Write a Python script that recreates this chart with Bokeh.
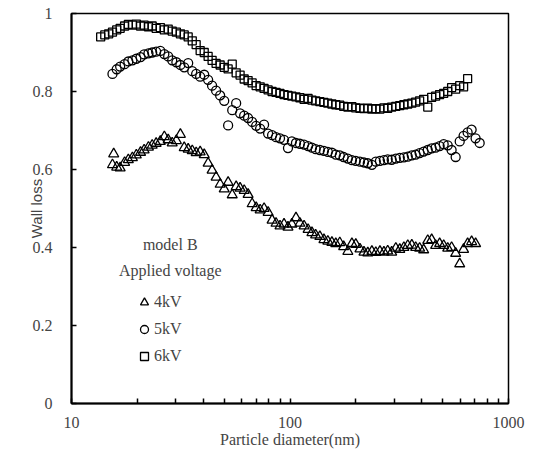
from bokeh.plotting import figure
from bokeh.models import Range1d, FixedTicker, Legend, LegendItem, Label
from bokeh.embed import file_html
from bokeh.resources import INLINE

# ---------------- data ----------------
diam_6kv = [13.6, 14.2, 14.8, 15.4, 16.1, 16.7, 17.5, 18.2, 19.0, 19.8,
            20.7, 21.5, 22.5, 23.4, 24.4, 25.5, 26.6, 27.7, 28.9, 30.2,
            31.5, 32.8, 34.2, 35.7, 37.2, 38.8, 40.5, 42.2, 44.0, 45.9,
            47.9, 50.0, 52.1, 54.4, 56.7, 59.1, 61.7, 64.3, 67.1, 70.0,
            73.0, 76.1, 79.4, 82.8, 86.3, 90.0, 93.9, 97.9, 102, 106.5,
            111, 116, 121, 126, 131, 137, 143, 149, 155.5, 162,
            169, 176, 184, 192, 200, 209, 218, 227, 237, 247,
            258, 269, 280, 292, 305, 318, 332, 346, 361, 376,
            392, 409, 427, 445, 464, 484, 505, 527, 549, 573,
            598, 623, 650]
wall_6kv = [0.940, 0.945, 0.948, 0.952, 0.958, 0.962, 0.968, 0.972, 0.970, 0.973,
            0.968, 0.970, 0.966, 0.968, 0.962, 0.964, 0.958, 0.960, 0.955, 0.952,
            0.948, 0.945, 0.940, 0.930, 0.920, 0.905, 0.900, 0.890, 0.880, 0.872,
            0.868, 0.862, 0.858, 0.870, 0.848, 0.842, 0.832, 0.828, 0.822, 0.815,
            0.812, 0.808, 0.804, 0.800, 0.798, 0.795, 0.792, 0.790, 0.788, 0.786,
            0.784, 0.780, 0.782, 0.778, 0.776, 0.774, 0.772, 0.770, 0.768, 0.766,
            0.765, 0.762, 0.760, 0.761, 0.758, 0.757, 0.756, 0.757, 0.755, 0.756,
            0.755, 0.758, 0.757, 0.760, 0.762, 0.764, 0.766, 0.768, 0.770, 0.773,
            0.776, 0.780, 0.760, 0.785, 0.788, 0.792, 0.795, 0.800, 0.810, 0.806,
            0.815, 0.812, 0.833]

diam_5kv = [15.4, 16.1, 16.7, 17.5, 18.2, 19.0, 19.8, 20.7, 21.5, 22.5,
            23.4, 24.4, 25.5, 26.6, 27.7, 28.9, 30.2, 31.5, 32.8, 34.2,
            35.7, 37.2, 38.8, 40.5, 42.2, 44.0, 45.9, 47.9, 50.0, 52.1,
            54.4, 56.7, 59.1, 61.7, 64.3, 67.1, 70.0, 73.0, 76.1, 79.4,
            82.8, 86.3, 90.0, 93.9, 97.9, 102, 106.5, 111, 116, 121,
            126, 131, 137, 143, 149, 155.5, 162, 169, 176, 184,
            192, 200, 209, 218, 227, 237, 247, 258, 269, 280,
            292, 305, 318, 332, 346, 361, 376, 392, 409, 427,
            445, 464, 484, 505, 527, 549, 573, 598, 623, 650,
            678, 707, 738]
wall_5kv = [0.845, 0.857, 0.864, 0.870, 0.877, 0.880, 0.884, 0.888, 0.895, 0.898,
            0.900, 0.902, 0.904, 0.896, 0.890, 0.880, 0.875, 0.868, 0.862, 0.873,
            0.852, 0.845, 0.838, 0.843, 0.830, 0.815, 0.802, 0.790, 0.776, 0.713,
            0.752, 0.770, 0.744, 0.738, 0.732, 0.722, 0.712, 0.705, 0.715, 0.692,
            0.688, 0.683, 0.680, 0.676, 0.655, 0.672, 0.668, 0.666, 0.664, 0.660,
            0.656, 0.652, 0.650, 0.648, 0.645, 0.643, 0.638, 0.636, 0.632, 0.628,
            0.624, 0.622, 0.620, 0.618, 0.616, 0.612, 0.620, 0.622, 0.624, 0.626,
            0.625, 0.628, 0.630, 0.631, 0.633, 0.636, 0.638, 0.642, 0.646, 0.650,
            0.654, 0.656, 0.660, 0.665, 0.662, 0.650, 0.632, 0.672, 0.686, 0.695,
            0.702, 0.680, 0.668]

diam_4kv = [15.4, 15.6, 16.1, 16.7, 17.5, 18.2, 19.0, 19.8, 20.7, 21.5, 22.5,
            23.4, 24.4, 25.5, 26.6, 27.7, 28.9, 30.2, 31.5, 32.8, 34.2,
            35.7, 37.2, 38.8, 40.5, 42.2, 44.0, 45.9, 47.9, 50.0, 52.1,
            54.4, 56.7, 59.1, 61.7, 64.3, 67.1, 70.0, 73.0, 76.1, 79.4,
            82.8, 86.3, 90.0, 93.9, 97.9, 102, 106.5, 111, 116, 121,
            126, 131, 137, 143, 149, 155.5, 162, 169, 176, 184,
            192, 200, 209, 218, 227, 237, 247, 258, 269, 280,
            292, 305, 318, 332, 346, 361, 376, 392, 409, 427,
            445, 464, 484, 505, 527, 549, 573, 598, 623, 650,
            678, 707]
wall_4kv = [0.612, 0.640, 0.606, 0.604, 0.618, 0.625, 0.630, 0.637, 0.644, 0.650, 0.657,
            0.662, 0.667, 0.672, 0.684, 0.676, 0.668, 0.674, 0.690, 0.656, 0.652,
            0.648, 0.643, 0.645, 0.638, 0.616, 0.598, 0.580, 0.562, 0.550, 0.567,
            0.535, 0.556, 0.552, 0.546, 0.536, 0.512, 0.502, 0.496, 0.500, 0.490,
            0.470, 0.462, 0.455, 0.460, 0.452, 0.460, 0.476, 0.462, 0.455, 0.446,
            0.438, 0.432, 0.428, 0.420, 0.416, 0.413, 0.410, 0.412, 0.402, 0.390,
            0.410, 0.408, 0.396, 0.388, 0.386, 0.390, 0.387, 0.390, 0.388, 0.391,
            0.388, 0.398, 0.395, 0.400, 0.405, 0.406, 0.400, 0.398, 0.394, 0.418,
            0.420, 0.405, 0.410, 0.405, 0.398, 0.400, 0.385, 0.358, 0.395, 0.410,
            0.415, 0.410]

series_labels = ["4kV", "5kV", "6kV"]
y_ticks = [0, 0.2, 0.4, 0.6, 0.8, 1]
y_tick_labels = ["0", "0.2", "0.4", "0.6", "0.8", "1"]
x_ticks = [10, 100, 1000]
x_minor_ticks = [20, 30, 40, 50, 60, 70, 80, 90, 200, 300, 400, 500, 600, 700, 800, 900]
x_tick_labels = ["10", "100", "1000"]
title_lines = ["model B", "Applied voltage"]

assert len(diam_6kv) == len(wall_6kv)
assert len(diam_5kv) == len(wall_5kv)
assert len(diam_4kv) == len(wall_4kv)

SERIF = "Liberation Serif"
SANS = "Liberation Sans"

p = figure(width=536, height=464, x_axis_type="log",
           x_range=Range1d(10, 1000), y_range=Range1d(0, 1),
           output_backend="svg", toolbar_location=None)
p.min_border_left = 71
p.min_border_right = 28
p.min_border_top = 13
p.min_border_bottom = 61

p.xgrid.visible = False
p.ygrid.visible = False
p.outline_line_color = "black"
p.outline_line_width = 1.5
p.background_fill_color = "white"

# x axis
xa = p.xaxis[0]
xa.ticker = FixedTicker(ticks=x_ticks, minor_ticks=x_minor_ticks)
xa.major_label_overrides = {t: l for t, l in zip(x_ticks, x_tick_labels)}
xa.axis_label = "Particle diameter(nm)"
xa.axis_label_text_font = SERIF
xa.axis_label_text_font_size = "16px"
xa.axis_label_text_font_style = "normal"
xa.axis_label_standoff = 0
xa.major_label_text_font = SERIF
xa.major_label_text_font_size = "16px"
xa.major_label_standoff = 13
xa.axis_line_width = 2
xa.major_tick_in = 5
xa.major_tick_out = 0
xa.minor_tick_in = 5
xa.minor_tick_out = 0
xa.major_tick_line_width = 1.5
xa.minor_tick_line_width = 1.5

# y axis
ya = p.yaxis[0]
ya.ticker = FixedTicker(ticks=y_ticks)
ya.major_label_overrides = {t: l for t, l in zip(y_ticks, y_tick_labels)}
ya.major_label_text_font = SERIF
ya.major_label_text_font_size = "16px"
ya.major_label_standoff = 19
ya.axis_line_width = 2
ya.major_tick_in = 5
ya.major_tick_out = 0
ya.minor_tick_in = 0
ya.minor_tick_out = 0
ya.major_tick_line_width = 1.5
ya.axis_label = "Wall loss"
ya.axis_label_text_font = SANS
ya.axis_label_text_font_size = "15px"
ya.axis_label_text_font_style = "normal"
ya.axis_label_standoff = -15

# series
common = dict(line_color="black", fill_color=None, line_width=1.3)
r4 = p.scatter(diam_4kv, wall_4kv, marker="triangle", size=10, **common)
r5 = p.scatter(diam_5kv, wall_5kv, marker="circle", size=9, **common)
r6 = p.scatter(diam_6kv, wall_6kv, marker="square", size=8, **common)

legend = Legend(items=[LegendItem(label=series_labels[0], renderers=[r4]),
                       LegendItem(label=series_labels[1], renderers=[r5]),
                       LegendItem(label=series_labels[2], renderers=[r6])],
                location=(63, 37), orientation="vertical",
                glyph_width=20, glyph_height=20, label_height=20,
                label_standoff=0, spacing=7, padding=0, margin=0,
                border_line_color=None, background_fill_alpha=0,
                label_text_font=SERIF, label_text_font_size="16px")
p.add_layout(legend, "center")

# legend heading lines
p.add_layout(Label(x=28.3, y=0.408, text=title_lines[0], text_align="center",
                   text_baseline="middle", text_font=SERIF, text_font_size="16px"))
p.add_layout(Label(x=28.3, y=0.341, text=title_lines[1], text_align="center",
                   text_baseline="middle", text_font=SERIF, text_font_size="16px"))

open("out.html", "w").write(file_html(p, INLINE))
